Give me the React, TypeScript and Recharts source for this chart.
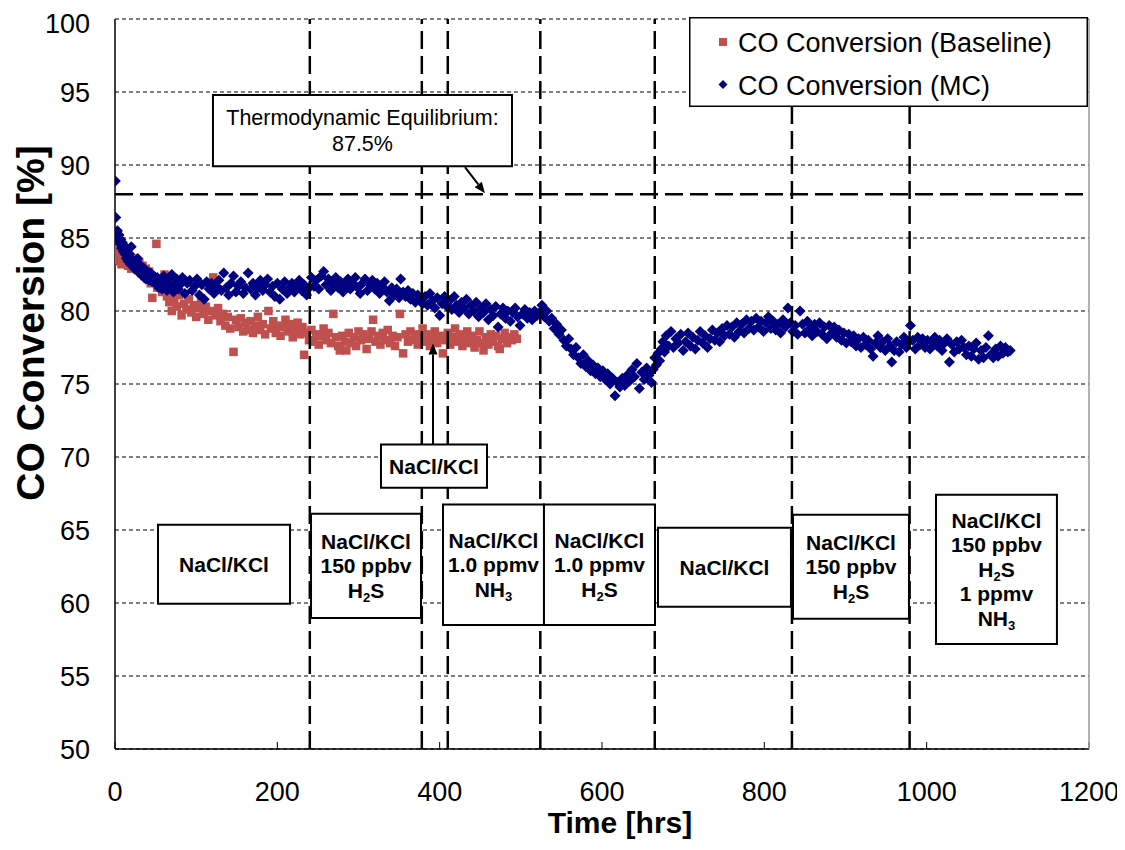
import React from 'react';
import {
  ScatterChart,
  Scatter,
  XAxis,
  YAxis,
  CartesianGrid,
  ReferenceLine,
  ReferenceArea,
  Legend,
} from 'recharts';

const FONT = '"Liberation Sans", Arial, Helvetica, sans-serif';

// ---------- data ----------
const xTicks = [0, 200, 400, 600, 800, 1000, 1200];
const yTicks = [50, 55, 60, 65, 70, 75, 80, 85, 90, 95, 100];
const phaseBoundaries = [240, 378, 410, 524, 665, 834, 979];
const equilibriumLevel = 88;

const seriesNames = ['CO Conversion (Baseline)', 'CO Conversion (MC)'];
const seriesColors = ['#C0504D', '#000080'];

// [hours, CO conversion %]
const baselineData: [number, number][] = [
  [0.5, 84.3], [1, 83.8], [1.5, 84.0], [2, 83.5], [3, 83.9], [4, 83.6], [5, 84.2], [6, 83.4], [7, 83.8], [8, 83.2],
  [9, 83.6], [10, 83.9], [12, 83.3], [14, 83.7], [16, 83.1], [18, 83.5], [20, 82.9], [22, 83.6], [24, 83.1], [26, 83.4],
  [28, 82.8], [30, 83.3], [32, 82.6], [34, 83.1], [36, 82.4], [38, 82.9], [40, 82.2], [42, 82.7], [44, 81.9], [46, 80.9],
  [48, 82.3], [51, 84.6], [52, 81.6], [55, 82.1], [58, 81.3], [61, 82.5], [64, 81.0], [67, 80.6], [70, 80.0], [73, 80.8],
  [76, 80.3], [79, 81.1], [82, 79.7], [85, 80.5], [88, 80.1], [91, 80.8], [94, 79.9], [97, 80.4], [100, 79.6], [103, 80.2],
  [106, 80.7], [109, 79.8], [112, 80.3], [115, 79.4], [118, 80.0], [121, 82.3], [124, 79.7], [127, 80.2], [130, 79.3], [133, 79.8],
  [136, 79.0], [139, 79.6], [142, 78.8], [146, 77.2], [149, 79.4], [152, 78.9], [155, 79.5], [158, 78.6], [161, 79.2], [164, 78.7],
  [167, 79.3], [170, 78.5], [173, 79.0], [176, 79.6], [179, 78.7], [182, 79.1], [185, 78.4], [189, 80.0], [192, 78.8], [195, 79.3],
  [198, 78.5], [201, 79.0], [204, 78.3], [207, 78.9], [210, 79.4], [213, 78.6], [216, 79.1], [219, 78.2], [222, 78.7], [225, 79.2],
  [228, 78.4], [231, 78.9], [233, 77.0], [236, 78.5], [239, 78.0], [242, 78.7], [245, 77.9], [248, 78.4], [251, 77.7], [254, 78.3],
  [257, 78.8], [260, 78.0], [263, 78.5], [266, 77.8], [269, 79.8], [272, 78.2], [275, 77.6], [277, 77.3], [280, 78.3], [283, 77.9],
  [285, 77.3], [288, 78.5], [291, 77.8], [294, 78.2], [297, 77.6], [300, 78.6], [303, 78.0], [306, 78.4], [310, 77.4], [313, 78.1],
  [316, 78.6], [318, 79.4], [321, 77.9], [324, 78.3], [327, 77.7], [330, 78.5], [333, 78.0], [336, 78.7], [339, 77.8], [342, 78.3],
  [345, 77.6], [348, 78.2], [351, 79.8], [355, 77.1], [358, 78.4], [361, 77.9], [364, 78.6], [367, 78.0], [370, 78.4], [373, 77.7],
  [376, 78.2], [379, 78.8], [382, 77.9], [385, 78.4], [388, 77.6], [391, 78.1], [394, 78.6], [397, 77.8], [400, 78.3], [404, 77.1],
  [407, 78.0], [410, 78.5], [413, 77.7], [416, 78.2], [419, 78.8], [422, 77.9], [425, 78.4], [428, 77.6], [431, 78.1], [434, 78.6],
  [437, 77.8], [440, 78.3], [443, 77.5], [446, 78.0], [449, 78.6], [452, 77.8], [454, 77.3], [457, 78.2], [460, 77.7], [463, 78.4],
  [466, 77.9], [469, 78.3], [472, 77.6], [474, 77.4], [477, 78.1], [480, 78.5], [483, 77.8], [486, 78.2], [489, 78.0], [492, 78.4],
  [495, 78.1],
];

const mcData: [number, number][] = [
  [0.5, 88.9], [1, 86.4], [2, 85.3], [3, 85.5], [4, 84.9], [5, 85.2], [6, 84.6], [7, 84.9], [8, 84.3], [9, 84.7],
  [10, 84.1], [11, 84.5], [12, 83.9], [13, 84.3], [14, 83.6], [15, 84.0], [16, 83.4], [18, 83.9], [19, 83.2], [20, 84.4],
  [22, 83.5], [24, 82.9], [25, 83.3], [27, 82.8], [28, 83.6], [30, 82.6], [32, 83.1], [34, 82.4], [36, 82.9], [38, 82.2],
  [40, 82.7], [42, 82.1], [44, 82.6], [46, 82.0], [48, 82.4], [50, 81.9], [52, 82.3], [54, 81.6], [56, 82.1], [58, 81.5],
  [60, 82.4], [62, 81.8], [64, 81.4], [66, 82.2], [68, 81.7], [70, 82.5], [72, 81.3], [74, 81.9], [76, 82.2], [78, 81.5],
  [80, 81.8], [83, 82.3], [86, 81.2], [89, 81.9], [92, 82.1], [95, 81.4], [98, 81.7], [101, 82.2], [104, 81.1], [107, 81.8],
  [110, 80.8], [113, 82.0], [116, 81.5], [119, 81.9], [122, 81.2], [125, 81.7], [128, 82.1], [131, 81.4], [134, 82.6], [137, 81.6],
  [140, 81.1], [143, 81.9], [146, 82.4], [149, 81.3], [152, 81.7], [155, 82.0], [158, 81.2], [161, 81.6], [164, 82.6], [167, 81.5],
  [170, 81.9], [173, 81.1], [176, 81.6], [179, 82.1], [182, 81.4], [185, 81.8], [188, 82.2], [191, 81.3], [194, 81.7], [197, 81.0],
  [200, 81.9], [203, 80.8], [206, 81.5], [209, 82.0], [212, 81.2], [215, 81.6], [218, 81.9], [221, 81.3], [224, 81.7], [227, 82.1],
  [230, 81.4], [233, 81.8], [236, 81.1], [239, 81.6], [242, 82.3], [245, 81.7], [248, 82.1], [251, 81.5], [254, 82.4], [257, 82.7],
  [260, 81.8], [263, 82.2], [266, 81.4], [269, 81.9], [272, 82.3], [275, 81.6], [278, 82.0], [281, 81.3], [284, 81.8], [287, 82.2],
  [290, 81.5], [293, 81.9], [296, 82.3], [299, 81.6], [302, 81.2], [305, 81.9], [308, 82.2], [311, 81.4], [314, 81.8], [317, 82.1],
  [320, 81.5], [323, 81.9], [326, 81.2], [329, 81.7], [332, 82.0], [335, 81.3], [338, 80.7], [341, 81.6], [344, 81.1], [347, 81.5],
  [350, 80.9], [352, 82.2], [355, 81.3], [358, 81.0], [361, 81.4], [364, 80.8], [367, 81.2], [370, 80.6], [373, 81.1], [376, 80.8],
  [379, 80.5], [382, 81.0], [385, 80.4], [388, 81.2], [391, 80.7], [394, 80.2], [397, 80.9], [400, 79.7], [403, 80.5], [406, 81.0],
  [409, 80.3], [412, 80.7], [415, 80.1], [418, 81.0], [421, 80.4], [424, 79.9], [427, 80.6], [430, 80.2], [433, 80.8], [436, 79.8],
  [439, 80.4], [442, 80.0], [445, 80.6], [448, 79.6], [451, 80.2], [454, 79.9], [457, 80.5], [460, 79.4], [463, 80.1], [466, 79.7],
  [469, 80.3], [472, 78.9], [475, 79.8], [478, 80.2], [481, 79.5], [484, 80.0], [487, 79.3], [490, 79.9], [493, 80.2], [496, 79.6],
  [499, 79.0], [502, 79.8], [505, 80.1], [508, 79.5], [511, 79.9], [514, 79.4], [517, 80.0], [520, 79.7], [523, 79.9], [526, 80.4],
  [529, 79.6], [532, 80.0], [535, 79.3], [538, 79.5], [541, 78.8], [544, 79.1], [547, 78.4], [550, 78.7], [553, 78.0], [556, 77.6],
  [559, 78.1], [562, 77.4], [565, 77.0], [568, 77.5], [571, 76.8], [574, 76.4], [577, 77.0], [580, 76.2], [583, 76.6], [586, 75.9],
  [589, 76.3], [592, 75.7], [595, 76.1], [598, 75.5], [601, 75.9], [604, 75.3], [607, 75.7], [610, 75.0], [613, 75.4], [616, 74.2],
  [619, 75.1], [622, 74.8], [625, 75.4], [628, 74.9], [631, 75.6], [634, 75.2], [637, 76.0], [640, 75.5], [643, 76.4], [646, 74.7],
  [649, 75.8], [652, 75.3], [655, 76.1], [658, 75.6], [661, 75.1], [663, 76.0], [665, 76.8], [667, 76.3], [669, 77.1], [671, 76.6],
  [673, 77.4], [675, 77.9], [677, 77.2], [679, 78.3], [682, 77.6], [685, 78.6], [688, 77.5], [691, 78.1], [694, 77.8], [697, 78.4],
  [700, 77.3], [703, 77.9], [706, 78.5], [709, 77.6], [712, 78.2], [715, 77.4], [718, 78.0], [721, 78.6], [724, 77.8], [727, 78.3],
  [730, 77.5], [733, 78.1], [736, 78.7], [739, 78.0], [742, 78.5], [745, 77.9], [748, 78.8], [751, 78.3], [754, 79.0], [757, 78.4],
  [760, 78.9], [763, 78.2], [766, 79.2], [769, 78.6], [772, 79.1], [775, 78.5], [778, 79.4], [781, 78.8], [784, 79.3], [787, 78.7],
  [790, 79.5], [793, 78.9], [796, 79.3], [799, 78.6], [802, 79.2], [805, 79.6], [808, 78.8], [811, 79.3], [814, 78.7], [817, 79.1],
  [820, 78.5], [823, 79.4], [826, 78.9], [829, 80.2], [832, 79.2], [835, 78.6], [838, 79.0], [841, 78.4], [844, 80.0], [847, 79.1],
  [850, 78.5], [853, 79.3], [856, 78.8], [859, 78.3], [862, 79.1], [865, 78.6], [868, 79.2], [871, 78.4], [874, 78.9], [877, 78.1],
  [880, 79.0], [883, 78.5], [886, 78.9], [889, 78.2], [892, 78.7], [895, 78.0], [898, 78.5], [901, 77.8], [904, 78.4], [907, 77.9],
  [910, 78.3], [913, 77.6], [916, 78.1], [919, 77.5], [922, 78.2], [925, 77.7], [928, 78.0], [931, 77.4], [934, 76.9], [937, 77.8],
  [940, 78.3], [943, 77.5], [946, 77.9], [949, 77.3], [952, 78.1], [955, 77.6], [957, 76.5], [960, 77.3], [963, 77.9], [966, 77.2],
  [969, 77.7], [972, 78.2], [975, 77.5], [978, 77.9], [980, 79.0], [983, 78.0], [986, 77.4], [989, 78.2], [992, 77.7], [995, 78.1],
  [998, 77.5], [1001, 78.0], [1004, 77.4], [1007, 77.9], [1010, 78.2], [1013, 77.6], [1016, 78.0], [1019, 77.3], [1022, 77.8], [1025, 78.1],
  [1028, 76.5], [1031, 77.7], [1034, 77.2], [1037, 77.9], [1040, 77.4], [1043, 78.0], [1046, 77.5], [1049, 77.0], [1052, 77.6], [1055, 76.9],
  [1058, 77.4], [1061, 77.8], [1064, 76.7], [1067, 77.3], [1070, 76.8], [1073, 77.5], [1076, 78.3], [1079, 77.0], [1082, 76.8], [1085, 77.4],
  [1088, 76.9], [1091, 77.6], [1094, 77.1], [1097, 77.5], [1100, 77.2], [1103, 77.3],
];

// Annotation boxes: data-space extents and text lines ("_n" = subscript)
const phaseBoxes = [
  { x1: 53, x2: 215.6, y1: 59.95, y2: 65.36, lines: ['NaCl/KCl'] },
  { x1: 241.5, x2: 377, y1: 58.98, y2: 66.12, lines: ['NaCl/KCl', '150 ppbv', 'H_2S'] },
  { x1: 404.1, x2: 528.5, y1: 58.5, y2: 66.74, lines: ['NaCl/KCl', '1.0 ppmv', 'NH_3'] },
  { x1: 528.5, x2: 665.3, y1: 58.5, y2: 66.74, lines: ['NaCl/KCl', '1.0 ppmv', 'H_2S'] },
  { x1: 669, x2: 832.8, y1: 59.74, y2: 65.16, lines: ['NaCl/KCl'] },
  { x1: 835.3, x2: 978.2, y1: 58.92, y2: 66.05, lines: ['NaCl/KCl', '150 ppbv', 'H_2S'] },
  { x1: 1011.5, x2: 1160.5, y1: 57.2, y2: 67.42, lines: ['NaCl/KCl', '150 ppbv', 'H_2S', '1 ppmv', 'NH_3'] },
];
const calloutBox = { x1: 327.7, x2: 458.3, y1: 67.9, y2: 70.85, lines: ['NaCl/KCl'] };
const calloutArrow = [{ x: 391.8, y: 70.85 }, { x: 391.8, y: 77.78 }];
const equilibriumBox = { x1: 120.7, x2: 489.1, y1: 89.92, y2: 94.79, lines: ['Thermodynamic Equilibrium:', '87.5%'] };
const equilibriumArrow = [{ x: 431.2, y: 89.85 }, { x: 455.8, y: 88.07 }];

const baselinePoints = baselineData.map(([x, y]) => ({ x, y }));
const mcPoints = mcData.map(([x, y]) => ({ x, y }));

// ---------- shapes ----------
const SquareMarker = (p: any) => {
  const s = 8.5;
  return <rect x={p.cx - s / 2} y={p.cy - s / 2} width={s} height={s} fill={seriesColors[0]} />;
};
const DiamondMarker = (p: any) => {
  const r = 5.5;
  return (
    <polygon
      points={`${p.cx},${p.cy - r} ${p.cx + r},${p.cy} ${p.cx},${p.cy + r} ${p.cx - r},${p.cy}`}
      fill={seriesColors[1]}
    />
  );
};

const renderLine = (text: string, fontSize: number) => {
  const parts = text.split(/_(\d)/);
  const out: React.ReactNode[] = [];
  const shift = fontSize * 0.18;
  parts.forEach((part, i) => {
    if (i % 2 === 1) {
      out.push(
        <tspan key={i} dy={shift} fontSize={fontSize * 0.62}>
          {part}
        </tspan>
      );
    } else if (part.length) {
      out.push(
        <tspan key={i} dy={i > 0 ? -shift : 0}>
          {part}
        </tspan>
      );
    }
  });
  return out;
};

const BoxLabel = (props: any) => {
  const { viewBox, lines, fontSize = 21, lineHeight = 24.5, bold = true } = props;
  if (!viewBox) return null;
  const { x, y, width, height } = viewBox;
  const cx = x + width / 2;
  const cy = y + height / 2;
  const n = lines.length;
  const first = cy - ((n - 1) * lineHeight) / 2 + fontSize * 0.36;
  return (
    <text textAnchor="middle" fontFamily={FONT} fontSize={fontSize} fontWeight={bold ? 'bold' : 'normal'} fill="#000">
      {lines.map((ln: string, i: number) => (
        <tspan key={i} x={cx} y={first + i * lineHeight}>
          {renderLine(ln, fontSize)}
        </tspan>
      ))}
    </text>
  );
};

const Arrow = (p: any) => {
  const { x1, y1, x2, y2 } = p;
  if ([x1, y1, x2, y2].some((v) => v === undefined || isNaN(v))) return null;
  const ang = Math.atan2(y2 - y1, x2 - x1);
  const L = 11;
  const W = 4.5;
  const bx = x2 - L * Math.cos(ang);
  const by = y2 - L * Math.sin(ang);
  const px = -Math.sin(ang) * W;
  const py = Math.cos(ang) * W;
  return (
    <g>
      <line x1={x1} y1={y1} x2={bx} y2={by} stroke="#000" strokeWidth={2} />
      <polygon points={`${x2},${y2} ${bx + px},${by + py} ${bx - px},${by - py}`} fill="#000" />
    </g>
  );
};

const LegendBox = () => (
  <svg width={399} height={90} style={{ display: 'block' }}>
    <rect x={0.75} y={0.75} width={397.5} height={88.5} fill="#fff" stroke="#000" strokeWidth={1.5} />
    <rect x={30} y={21} width={8} height={8} fill={seriesColors[0]} />
    <polygon points="34,63 38.5,67.5 34,72 29.5,67.5" fill={seriesColors[1]} />
    <text x={49} y={25} dy="0.36em" fontFamily={FONT} fontSize={27} fill="#000">
      {seriesNames[0]}
    </text>
    <text x={49} y={68} dy="0.36em" fontFamily={FONT} fontSize={27} fill="#000">
      {seriesNames[1]}
    </text>
  </svg>
);

const YTitle = (props: any) => {
  const vb = props.viewBox;
  if (!vb) return null;
  const x = vb.x + 22;
  const y = vb.y + vb.height / 2 - 61;
  return (
    <text
      x={x}
      y={y}
      transform={`rotate(-90, ${x}, ${y})`}
      textAnchor="middle"
      dominantBaseline="central"
      fontFamily={FONT}
      fontSize={39}
      fontWeight="bold"
      fill="#000"
    >
      CO Conversion [%]
    </text>
  );
};

const XTitle = (props: any) => {
  const vb = props.viewBox;
  if (!vb) return null;
  return (
    <text
      x={vb.x + vb.width / 2 + 18}
      y={vb.y + 84}
      textAnchor="middle"
      fontFamily={FONT}
      fontSize={30}
      fontWeight="bold"
      fill="#000"
    >
      Time [hrs]
    </text>
  );
};

const tickStyle = { fontFamily: FONT, fontSize: 27, fill: '#000' };

export default function App() {
  return (
    <ScatterChart
      width={1117}
      height={834}
      margin={{ top: 11, right: 36, bottom: 0, left: 0 }}
      style={{ background: '#fff' }}
    >
      <CartesianGrid horizontal vertical={false} stroke="#000" strokeWidth={1} strokeDasharray="4 3" />
      <XAxis
        type="number"
        dataKey="x"
        domain={[0, 1200]}
        ticks={xTicks}
        allowDataOverflow
        height={93}
        tick={tickStyle}
        tickSize={-7}
        tickMargin={40}
        tickLine={{ stroke: '#000', strokeWidth: 1 }}
        axisLine={{ stroke: '#000', strokeWidth: 1.5 }}
        label={{ content: XTitle }}
      />
      <YAxis
        type="number"
        dataKey="y"
        domain={[50, 100]}
        ticks={yTicks}
        allowDataOverflow
        width={107}
        tick={tickStyle}
        tickLine={false}
        tickSize={0}
        tickMargin={25}
        axisLine={{ stroke: '#000', strokeWidth: 1.5 }}
        label={{ content: YTitle }}
      />
      <Legend
        layout="horizontal"
        verticalAlign="middle"
        align="center"
        content={LegendBox}
        wrapperStyle={{ left: 681, top: 9, width: 399, height: 90 }}
      />
      <Scatter name={seriesNames[0]} data={baselinePoints} fill={seriesColors[0]} shape={SquareMarker} isAnimationActive={false} />
      <Scatter name={seriesNames[1]} data={mcPoints} fill={seriesColors[1]} shape={DiamondMarker} isAnimationActive={false} />

      <ReferenceLine x={1200} stroke="#999" strokeWidth={1.5} zIndex={640} />
      <ReferenceLine y={equilibriumLevel} stroke="#000" strokeWidth={2.5} strokeDasharray="18 7" zIndex={650} />
      {phaseBoundaries.map((b) => (
        <ReferenceLine key={b} x={b} stroke="#000" strokeWidth={2.5} strokeDasharray="18 7" zIndex={650} />
      ))}

      {phaseBoxes.map((bx, i) => (
        <ReferenceArea
          key={i}
          x1={bx.x1}
          x2={bx.x2}
          y1={bx.y1}
          y2={bx.y2}
          fill="#fff"
          fillOpacity={1}
          stroke="#000"
          strokeWidth={2}
          zIndex={700}
          label={<BoxLabel lines={bx.lines} />}
        />
      ))}
      <ReferenceArea
        x1={calloutBox.x1}
        x2={calloutBox.x2}
        y1={calloutBox.y1}
        y2={calloutBox.y2}
        fill="#fff"
        fillOpacity={1}
        stroke="#000"
        strokeWidth={2}
        zIndex={700}
        label={<BoxLabel lines={calloutBox.lines} />}
      />
      <ReferenceArea
        x1={equilibriumBox.x1}
        x2={equilibriumBox.x2}
        y1={equilibriumBox.y1}
        y2={equilibriumBox.y2}
        fill="#fff"
        fillOpacity={1}
        stroke="#000"
        strokeWidth={2}
        zIndex={700}
        label={<BoxLabel lines={equilibriumBox.lines} bold={false} fontSize={21.5} lineHeight={26} />}
      />
      <ReferenceLine segment={calloutArrow} shape={Arrow} zIndex={710} />
      <ReferenceLine segment={equilibriumArrow} shape={Arrow} zIndex={710} />
    </ScatterChart>
  );
}
